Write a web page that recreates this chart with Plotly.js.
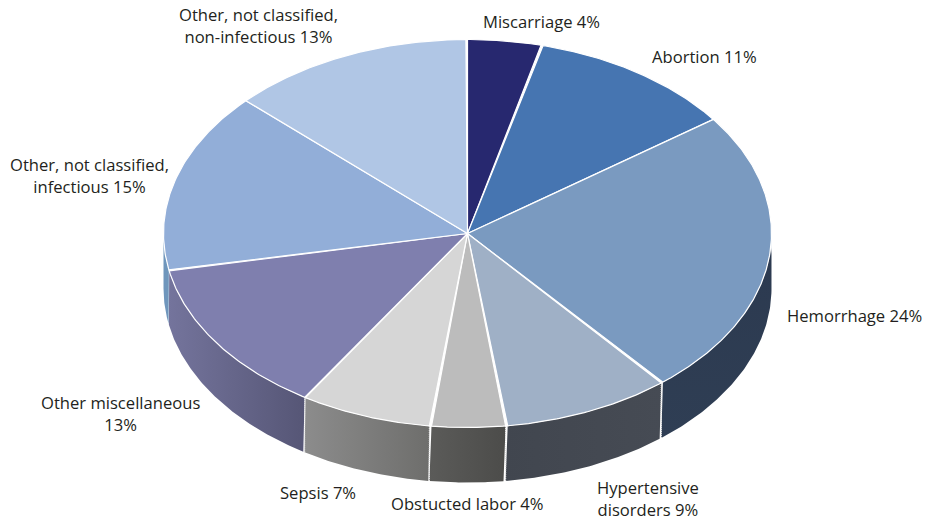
<!DOCTYPE html>
<html><head><meta charset="utf-8">
<script src="https://cdn.plot.ly/plotly-3.0.1.min.js"></script>
<style>html,body{margin:0;padding:0;background:#fff}#c{width:925px;height:521px}</style>
</head><body><div id="c"></div>
<script>
const categories = ["Miscarriage","Abortion","Hemorrhage","Hypertensive disorders","Obstucted labor","Sepsis","Other miscellaneous","Other, not classified, infectious","Other, not classified, non-infectious"];
const shares = [4,11,24,9,4,7,13,15,13];
const topColors = ["#27286f","#4675b1","#7a9ac0","#9fb0c6","#bcbcbc","#d6d6d6","#7f7fae","#92aed8","#b0c6e5"];
const wallLeft = ["#27286f","#4675b1","#dde4ec","#41464f","#5b5b59","#8c8c8c","#74749c","#6f96bc","#b0c6e5"];
const wallRight = ["#27286f","#4675b1","#2c3a50","#464b54","#4c4c4a","#6e6e6c","#565676","#6f96bc","#b0c6e5"];
const labelTexts = ["Miscarriage 4%","Abortion 11%","Hemorrhage 24%","Hypertensive<br>disorders 9%","Obstucted labor 4%","Sepsis 7%","Other miscellaneous<br>13%","Other, not classified,<br>infectious 15%","Other, not classified,<br>non-infectious 13%"];
const labelX = [541,704,854,648,467,318,120,89,258];
const labelY = [21,56,315,498,503,492,413,175,25];

const cx=467.5, cy=233.5, rx=304, ry=194, depth=55;
const total = shares.reduce((a,b)=>a+b,0);
const pt=(deg,dy=0)=>{const r=deg*Math.PI/180;return [cx+rx*Math.sin(r),cy-ry*Math.cos(r)+dy];};
const traces=[];
let run=0;
const spans=shares.map(s=>{const a=run/total*360;run+=s;return [a,run/total*360];});

// side walls (only the front half of the rim is visible)
spans.forEach(([a0,a1],i)=>{
  const lo=Math.max(a0,90), hi=Math.min(a1,270);
  if(hi<=lo) return;
  const xs=[],ys=[];
  for(let a=lo;a<=hi+1e-6;a+=0.5){const p=pt(a);xs.push(p[0]);ys.push(p[1]);}
  for(let a=hi;a>=lo-1e-6;a-=0.5){const p=pt(a,depth);xs.push(p[0]);ys.push(p[1]);}
  xs.push(xs[0]);ys.push(ys[0]);
  const grad = i===2
    ? {type:'vertical',colorscale:[[0,"#2f3e54"],[0.9,wallRight[i]],[0.93,wallLeft[i]],[1,wallLeft[i]]]}
    : {type:'horizontal',colorscale:[[0,wallLeft[i]],[1,wallRight[i]]]};
  traces.push({type:'scatter',mode:'lines',x:xs,y:ys,fill:'toself',fillgradient:grad,
    line:{width:0},hoverinfo:'skip',showlegend:false});
});
// dotted seams between wall segments, over all the walls
spans.forEach(([a0,a1])=>{
  if(a1>90 && a1<259){
    const p=pt(a1),q=pt(a1,depth);
    traces.push({type:'scatter',mode:'lines',x:[p[0],q[0]],y:[p[1],q[1]],
      line:{color:'#e6e6e6',width:1.2,dash:'1px,1px'},hoverinfo:'skip',showlegend:false});
  }
});
// top faces
spans.forEach(([a0,a1],i)=>{
  const xs=[cx],ys=[cy];
  for(let a=a0;a<=a1+1e-6;a+=0.5){const p=pt(a);xs.push(p[0]);ys.push(p[1]);}
  xs.push(cx);ys.push(cy);
  traces.push({type:'scatter',mode:'lines',x:xs,y:ys,fill:'toself',fillcolor:topColors[i],
    line:{color:'#ffffff',width:1.2},name:categories[i],text:categories[i],hoverinfo:'text',showlegend:false});
});

const annotations=labelTexts.map((t,i)=>({x:labelX[i],y:labelY[i],xref:'x',yref:'y',text:t,showarrow:false,
  align:'center',xanchor:'center',yanchor:'middle',font:{family:'"Open Sans",sans-serif',size:16.6,color:'#231f20'}}));

Plotly.newPlot('c',traces,{
  width:925,height:521,margin:{l:0,r:0,t:0,b:0},paper_bgcolor:'#fff',plot_bgcolor:'#fff',showlegend:false,
  xaxis:{range:[0,925],visible:false,fixedrange:true},
  yaxis:{range:[521,0],visible:false,fixedrange:true},
  annotations
},{displayModeBar:false,staticPlot:true});
</script></body></html>
